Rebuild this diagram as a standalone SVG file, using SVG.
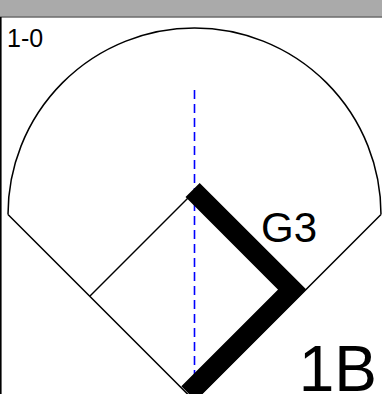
<svg xmlns="http://www.w3.org/2000/svg" width="382" height="394" viewBox="0 0 382 394">
<style>
.thin{fill:none;stroke:#000;stroke-width:1.5}
.txt{font-family:"Liberation Sans",Arial,sans-serif;fill:#000}
</style>
<rect x="0" y="0" width="382" height="394" fill="#fff"/>
<rect x="0" y="0" width="382" height="16.5" fill="#aaaaaa"/>
<line x1="0" y1="17" x2="382" y2="17" stroke="#222" stroke-width="1.2"/>
<line x1="0.8" y1="17" x2="0.8" y2="394" stroke="#000" stroke-width="1.6"/>
<g id="field">
<path class="thin" d="M8,214.5 A186.5,186.5 0 0 1 381,214.5"/>
<path class="thin" d="M8,214.5 L194.5,401 L381,214.5"/>
<path class="thin" d="M90,296 L194.5,191.5"/>
</g>
<g id="connectors">
<line x1="194.5" y1="90" x2="194.5" y2="394" stroke="#0000ff" stroke-width="1.6" stroke-dasharray="9,5"/>
<path d="M192.6,190 L292.2,289.6 L188.4,393.4" fill="none" stroke="#000" stroke-width="20" stroke-linejoin="miter"/>
</g>
<g id="labels">
<text class="txt" x="7" y="47" font-size="25">1-0</text>
<text class="txt" x="261" y="242" font-size="42">G3</text>
<text class="txt" x="377" y="391" font-size="64" text-anchor="end">1B</text>
</g>
</svg>
